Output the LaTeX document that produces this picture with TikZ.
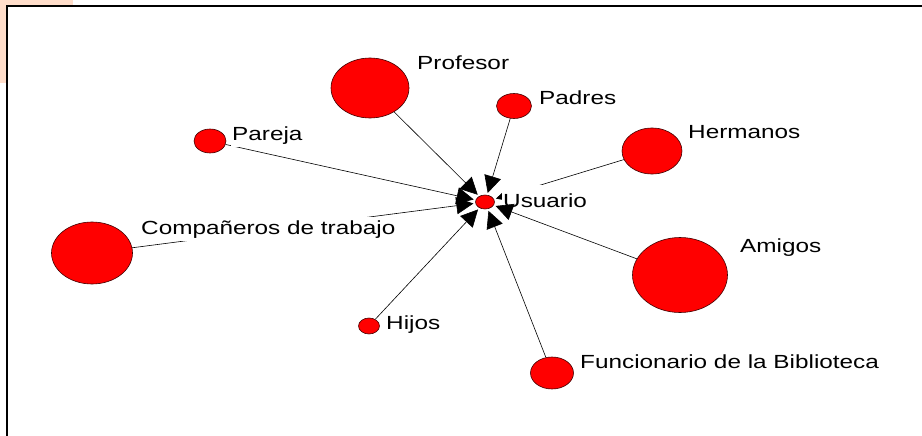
\documentclass[tikz,border=0pt]{standalone}
\usepackage{fontspec}
\setmainfont{Liberation Sans}
\usetikzlibrary{shapes.geometric,arrows.meta}
\definecolor{peach}{RGB}{255,221,202}
\definecolor{nodered}{RGB}{255,0,0}

\begin{document}
\begin{tikzpicture}[x=1pt,y=-1pt,
  actor/.style={ellipse,draw=black!75!red,fill=nodered,line width=.6pt,inner sep=0pt},
  tag/.style={anchor=base west,fill=white,inner xsep=1pt,inner ysep=3pt,font=\fontsize{19}{22}\selectfont},
  tie/.style={-{Triangle[length=17pt,width=17pt]},shorten >=2pt,line width=.6pt}]
\useasboundingbox (0,0) rectangle (922,436);
\fill[peach] (0,0) rectangle (73,6);
\fill[peach] (0,0) rectangle (7,83);
\draw[line width=2pt] (7,436) -- (7,6) -- (922,6);
% actors
\node at (485,202) [actor,minimum width=19pt,minimum height=14pt] (usr) {};
\node at (370,88) [actor,minimum width=78pt,minimum height=60pt] (prof) {};
\node at (514,106) [actor,minimum width=35pt,minimum height=25pt] (pad) {};
\node at (652,151) [actor,minimum width=60pt,minimum height=46pt] (her) {};
\node at (210,141) [actor,minimum width=32pt,minimum height=24pt] (par) {};
\node at (92,253) [actor,minimum width=81pt,minimum height=62pt] (comp) {};
\node at (680,275) [actor,minimum width=95pt,minimum height=75pt] (ami) {};
\node at (369,326) [actor,minimum width=21pt,minimum height=16pt] (hij) {};
\node at (552,373) [actor,minimum width=43pt,minimum height=32pt] (func) {};
% ties
\foreach \n in {prof,par,comp,her,hij,func}
  \draw[tie] (\n) -- (usr);
% labels
\node at (502,207) [tag,inner ysep=8pt] (tUsr) {\scalebox{1.28}[1]{Usuario}};
\draw[tie] (pad) -- (usr);
\draw[tie] (ami) -- (usr);
\node at (416,70) [tag] (tProf) {\scalebox{1.28}[1]{Profesor}};
\node at (538,104) [tag] (tPad) {\scalebox{1.28}[1]{Padres}};
\node at (687,139) [tag] (tHer) {\scalebox{1.28}[1]{Hermanos}};
\node at (231,140) [tag] (tPar) {\scalebox{1.28}[1]{Pareja}};
\node at (140,234) [tag] (tComp) {\scalebox{1.28}[1]{Compañeros de trabajo}};
\node at (739,252) [tag] (tAmi) {\scalebox{1.28}[1]{Amigos}};
\node at (385,329) [tag] (tHij) {\scalebox{1.28}[1]{Hijos}};
\node at (579,368) [tag] (tFunc) {\scalebox{1.28}[1]{Funcionario de la Biblioteca}};
\end{tikzpicture}
\end{document}
